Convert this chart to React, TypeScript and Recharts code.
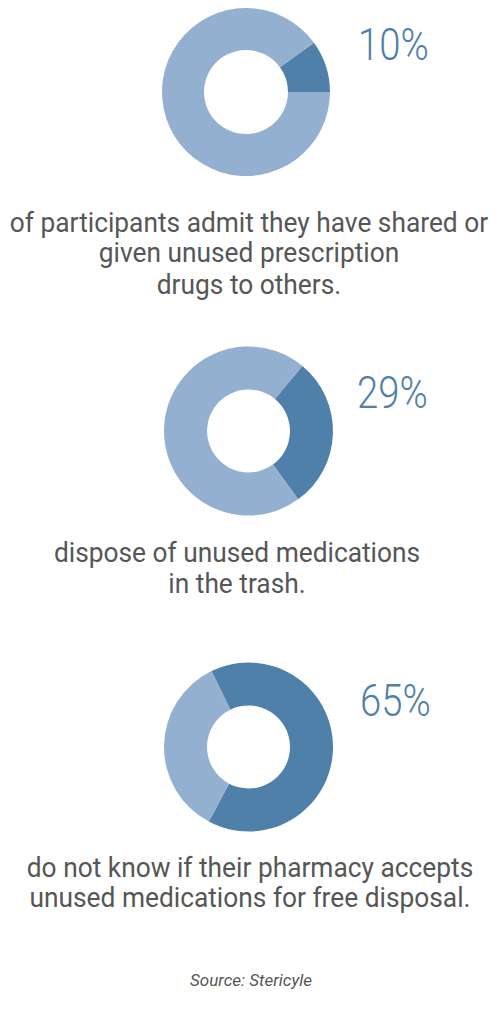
import { PieChart, Pie, Cell } from 'recharts';

const percents = [10, 29, 65];
const percentLabels = ['10%', '29%', '65%'];
const startAngles = [0, -54, -118];
const captions = [
  ['of participants admit they have shared or', 'given unused prescription', 'drugs to others.'],
  ['dispose of unused medications', 'in the trash.'],
  ['do not know if their pharmacy accepts', 'unused medications for free disposal.'],
];
const source = 'Source: Stericyle';

// layout of each block (pixels)
const donuts = [
  { cx: 246, cy: 92, r: 84, ir: 42, labelX: 358, labelY: 60, capX: 249, capY: [232, 262, 294] },
  { cx: 248.5, cy: 431, r: 84.5, ir: 41.5, labelX: 357, labelY: 408, capX: 237, capY: [562, 593] },
  { cx: 248.5, cy: 747, r: 84.5, ir: 41.5, labelX: 360, labelY: 716, capX: 250, capY: [877, 907] },
];

const DARK = '#4f80aa';
const LIGHT = '#94b0d1';
const TEXT = '#565656';
const FONT = 'Roboto, "Noto Sans", sans-serif';

export default function App() {
  return (
    <div style={{ position: 'relative', width: 504, height: 1024, margin: -8, background: '#fff' }}>
      <PieChart
        width={504}
        height={1024}
        margin={{ top: 0, right: 0, bottom: 0, left: 0 }}
        style={{ position: 'absolute', left: 0, top: 0 }}
      >
        {percents.map((p, i) => {
          const d = donuts[i];
          const data = [
            { name: 'share', value: p },
            { name: 'rest', value: 100 - p },
          ];
          return (
            <Pie
              key={i}
              data={data}
              dataKey="value"
              cx={d.cx}
              cy={d.cy}
              outerRadius={d.r}
              innerRadius={d.ir}
              startAngle={startAngles[i]}
              endAngle={startAngles[i] + 360}
              stroke="none"
              isAnimationActive={false}
            >
              <Cell fill={DARK} />
              <Cell fill={LIGHT} />
            </Pie>
          );
        })}
      </PieChart>
      <svg width={504} height={1024} style={{ position: 'absolute', left: 0, top: 0, pointerEvents: 'none' }}>
        {donuts.map((d, i) => (
          <g key={i}>
            <text
              transform={`translate(${d.labelX},${d.labelY}) scale(0.85,1)`}
              fontFamily={FONT}
              fontWeight={300}
              fontSize={45}
              fill={DARK}
            >
              {percentLabels[i]}
            </text>
            {captions[i].map((line, j) => (
              <text
                key={j}
                transform={`translate(${d.capX},${d.capY[j]}) scale(0.94,1)`}
                textAnchor="middle"
                fontFamily={FONT}
                fontSize={28}
                fill={TEXT}
              >
                {line}
              </text>
            ))}
          </g>
        ))}
        <text
          x={251}
          y={986}
          textAnchor="middle"
          fontFamily={FONT}
          fontStyle="italic"
          fontSize={17}
          fill={TEXT}
        >
          {source}
        </text>
      </svg>
    </div>
  );
}
